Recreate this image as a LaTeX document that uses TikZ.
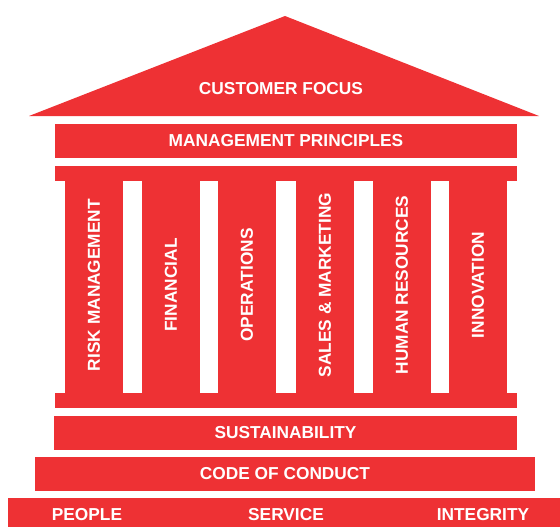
\documentclass[tikz,border=0pt]{standalone}
\usepackage{fontspec}
\setmainfont{Liberation Sans}
\definecolor{templered}{RGB}{238,49,52}
\begin{document}
\begin{tikzpicture}[x=1pt, y=-1pt, block/.style={fill=templered},
label/.style={text=white, font=\fontsize{17.3}{20}\selectfont\bfseries, inner sep=0pt},
pillar label/.style={label, rotate=90}]

\useasboundingbox (0,0) rectangle (560,527);

%roof
\coordinate (apex) at (285,16);
\coordinate (eaveL) at (29,116);
\coordinate (eaveR) at (539,116);
\fill[block] (eaveL) -- (apex) -- (eaveR) -- cycle;
\node[label] (focus) at (281,89) {CUSTOMER FOCUS};

%entablature
\fill[block] (55,124) rectangle (517,158);
\node[label] (principles) at (286,141) {MANAGEMENT PRINCIPLES};
\fill[block] (55,166) rectangle (517,181);

%pillars
\foreach \x/\name/\txt in {65/risk/RISK MANAGEMENT, 142/financial/FINANCIAL,
  218/operations/OPERATIONS, 296/sales/SALES \& MARKETING,
  373/hr/HUMAN RESOURCES, 449/innovation/INNOVATION}
{
  \fill[block] (\x,181) rectangle ++(58,212);
  \node[pillar label] (\name) at (\x+29,285) {\txt};
}

%steps
\fill[block] (55,393) rectangle (517,408);
\fill[block] (54,416) rectangle (517,450);
\node[label] (sustain) at (285.5,433) {SUSTAINABILITY};
\fill[block] (35,457) rectangle (535,491);
\node[label] (conduct) at (285,474) {CODE OF CONDUCT};
\fill[block] (8,498) rectangle (560,527);
\node[label] (people) at (87,515) {PEOPLE};
\node[label] (service) at (286,515) {SERVICE};
\node[label] (integrity) at (483,515) {INTEGRITY};

\end{tikzpicture}
\end{document}
